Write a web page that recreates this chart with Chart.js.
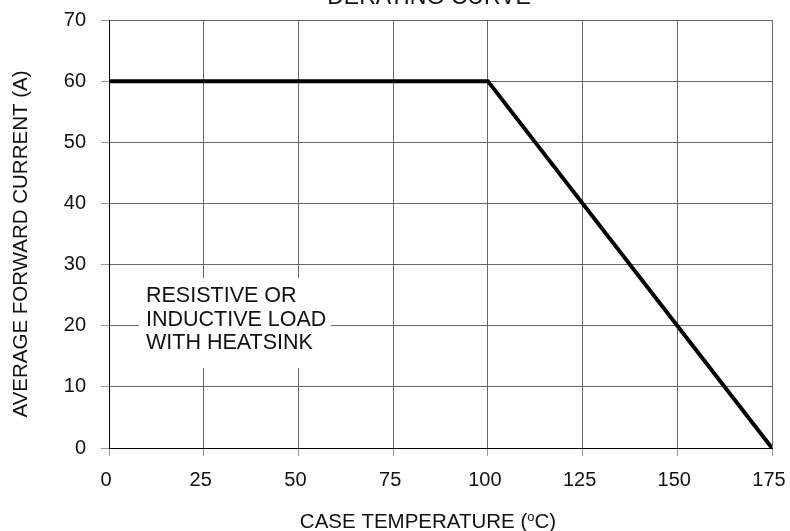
<!DOCTYPE html>
<html>
<head>
<meta charset="utf-8">
<script src="https://cdn.jsdelivr.net/npm/chart.js@4.4.1/dist/chart.umd.min.js"></script>
<style>
  html, body { margin: 0; padding: 0; background: #fff; }
  #wrap { width: 790px; height: 531px; position: relative; }
</style>
</head>
<body>
<div id="wrap"><canvas id="c" width="790" height="531"></canvas></div>
<script>
// ---- data ----
const chartTitle = "DERATING CURVE";
const caseTemp = [0, 100, 175];          // °C
const avgCurrent = [60, 60, 0];          // A
const xTicks = [0, 25, 50, 75, 100, 125, 150, 175];
const yTicks = [0, 10, 20, 30, 40, 50, 60, 70];
const xTitleParts = ["CASE TEMPERATURE (", "o", "C)"];
const yTitle = "AVERAGE FORWARD CURRENT (A)";
const noteLines = ["RESISTIVE OR", "INDUCTIVE LOAD", "WITH HEATSINK"];

const FONT = "'Liberation Sans', Arial, Helvetica, sans-serif";

const points = caseTemp.map((t, i) => ({ x: t, y: avgCurrent[i] }));

const decor = {
  id: 'decor',
  beforeDatasetsDraw(chart) {
    // white note box (covers gridlines)
    const ctx = chart.ctx;
    const a = chart.chartArea;
    ctx.save();
    ctx.fillStyle = '#fff';
    ctx.fillRect(a.left + 30, a.top + 258, 192, 90);
    ctx.restore();
  },
  afterDraw(chart) {
    const ctx = chart.ctx;
    const a = chart.chartArea;
    ctx.save();
    ctx.fillStyle = '#111';
    // chart title (cut off at top)
    ctx.font = `23px ${FONT}`;
    ctx.textAlign = 'center';
    ctx.textBaseline = 'alphabetic';
    ctx.fillText(chartTitle, 429, 4);

    // note text
    ctx.font = `21.5px ${FONT}`;
    ctx.textAlign = 'left';
    ctx.textBaseline = 'middle';
    noteLines.forEach((l, i) => ctx.fillText(l, a.left + 37, a.top + 276 + i * 23.7));

    // x-axis title with superscript
    const big = `20.5px ${FONT}`, small = `13px ${FONT}`;
    ctx.font = big;
    const w0 = ctx.measureText(xTitleParts[0]).width;
    const w2 = ctx.measureText(xTitleParts[2]).width;
    ctx.font = small;
    const w1 = ctx.measureText(xTitleParts[1]).width;
    const total = w0 + w1 + w2;
    let x = 428 - total / 2;
    const yb = 528;
    ctx.textAlign = 'left';
    ctx.textBaseline = 'alphabetic';
    ctx.font = big; ctx.fillText(xTitleParts[0], x, yb); x += w0;
    ctx.font = small; ctx.fillText(xTitleParts[1], x, yb - 7); x += w1;
    ctx.font = big; ctx.fillText(xTitleParts[2], x, yb);

    // y-axis title
    ctx.translate(21.5, 244);
    ctx.rotate(-Math.PI / 2);
    ctx.font = `20.5px ${FONT}`;
    ctx.textAlign = 'center';
    ctx.textBaseline = 'middle';
    ctx.fillText(yTitle, 0, 0);
    ctx.restore();
  }
};

new Chart(document.getElementById('c'), {
  type: 'line',
  data: {
    datasets: [{
      data: points,
      borderColor: '#000',
      borderWidth: 4,
      pointRadius: 0,
      tension: 0,
      fill: false,
      borderJoinStyle: 'miter'
    }]
  },
  options: {
    responsive: false,
    animation: false,
    devicePixelRatio: 1,
    layout: { padding: { top: 20, right: 18, left: 0, bottom: 0 } },
    plugins: { legend: { display: false }, title: { display: false }, tooltip: { enabled: false } },
    scales: {
      x: {
        type: 'linear',
        min: 0, max: 175,
        afterFit(s) { s.height = 83; s.paddingLeft = 0; s.paddingRight = 0; },
        afterBuildTicks(s) { s.ticks = xTicks.map(v => ({ value: v })); },
        ticks: { color: '#111', font: { family: FONT, size: 20 }, padding: 12, labelOffset: -3, maxRotation: 0 },
        grid: { color: '#666', lineWidth: 1, tickLength: 8, tickColor: '#999' },
        border: { color: '#000', width: 1 }
      },
      y: {
        type: 'linear',
        min: 0, max: 70,
        afterFit(s) { s.width = 109; s.paddingTop = 0; s.paddingBottom = 0; },
        afterBuildTicks(s) { s.ticks = yTicks.map(v => ({ value: v })); },
        ticks: { color: '#111', font: { family: FONT, size: 20 }, padding: 15 },
        grid: { color: '#666', lineWidth: 1, tickLength: 8, tickColor: '#999' },
        border: { color: '#000', width: 1 }
      }
    }
  },
  plugins: [decor]
});
</script>
</body>
</html>
